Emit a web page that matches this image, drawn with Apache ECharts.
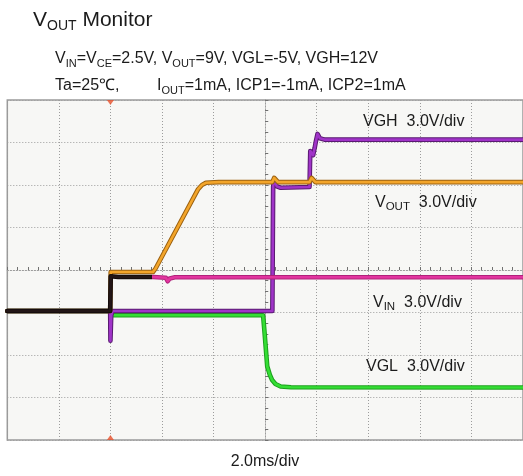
<!DOCTYPE html>
<html>
<head>
<meta charset="utf-8">
<script src="https://cdn.jsdelivr.net/npm/echarts@6/dist/echarts.min.js"></script>
<style>
  html, body { margin: 0; padding: 0; background: #ffffff; }
  #chart { width: 523px; height: 476px; }
</style>
</head>
<body>
<div id="chart"></div>
<script>
// Scope settings: 2 ms/div horizontally, 3 V/div on every channel, shared ground
const TIME_PER_DIV = 2;        // ms
const VOLTS_PER_DIV = 3;       // V
const H_DIVS = 10;
const V_DIVS = 8;
const PRE_TRIGGER_DIVS = 2;    // trigger point sits two divisions from the left edge
const GROUND_DIV = 3.035;      // channel ground level, divisions above the bottom edge
const TRIGGER_MS = 0;

// VIN (ms, V)
const vinTime  = [-4, -0.01, 0.01, 0.3, 1.65, 2.15, 2.22, 2.3, 2.5, 16];
const vinVolts = [0, 0, 2.45, 2.4, 2.4, 2.35, 2.1, 2.3, 2.38, 2.38];
const VIN_DARK_UNTIL = 1.65;   // VIN is drawn dark while it overlaps VOUT

// VOUT (ms, V)
const voutTime  = [-4, -0.01, 0.01, 1.65, 1.75, 3.4, 3.55, 3.7, 4.2, 6.28, 6.35, 6.5, 7.72, 7.8, 7.95, 16];
const voutVolts = [0, 0, 2.75, 2.75, 3.0, 8.6, 8.9, 9.05, 9.1, 9.1, 9.4, 9.1, 9.1, 9.4, 9.1, 9.1];

// VGH (ms, V)
const vghTime  = [-4, -0.01, 0.0, 0.03, 0.08, 6.28, 6.31, 6.36, 6.45, 6.6, 7.72, 7.75, 7.8, 7.86, 7.92, 7.97, 8.03, 8.12, 8.3, 16];
const vghVolts = [0, 0, -2.1, -0.3, 0, 0, 8.8, 9.3, 8.8, 8.7, 8.75, 11.3, 11.4, 11.0, 11.5, 12.0, 12.5, 12.2, 12.1, 12.1];

// VGL (ms, V)
const vglTime  = [-4, -0.01, 0.03, 5.92, 5.98, 6.08, 6.18, 6.27, 6.4, 6.6, 7.0, 16];
const vglVolts = [0, 0, -0.3, -0.3, -1.6, -3.9, -4.5, -4.87, -5.15, -5.33, -5.38, -5.4];

// Text shown on the screen
const channelLabels = ['VGH', 'V_OUT', 'V_IN', 'VGL'];
const scaleText = '3.0V/div';
const timeText = '2.0ms/div';

const FONT = '"Liberation Sans", Arial, Helvetica, sans-serif';
const INK = '#1b1b1b';

const tMin = -PRE_TRIGGER_DIVS * TIME_PER_DIV;
const tMax = tMin + H_DIVS * TIME_PER_DIV;
const vMin = -GROUND_DIV * VOLTS_PER_DIV;
const vMax = vMin + V_DIVS * VOLTS_PER_DIV;

const zip = (xs, ys) => xs.map((x, i) => [x, ys[i]]);

// Rich-text helper: "_" introduces a subscript run, e.g. V_OUT
function richText(label, main, sub) {
  const m = label.match(/^([^_]*)_(\w+)(.*)$/);
  if (!m) return '{' + main + '|' + label + '}';
  let s = '{' + main + '|' + m[1] + '}{' + sub + '|' + m[2] + '}';
  if (m[3]) s += '{' + main + '|' + m[3] + '}';
  return s;
}

const tok = (size, extra) => Object.assign(
  { fontFamily: FONT, fontSize: size, fontWeight: 'normal', color: INK, verticalAlign: 'bottom' }, extra || {});

const rich = {
  big:  tok(21, { padding: [0, 0, 2, 0] }),
  bigS: tok(14),
  n:    tok(16, { padding: [0, 0, 2, 0] }),
  s:    tok(11),
  l:    tok(16, { padding: [0, 0, 2, 0] }),
  ls:   tok(11.5)
};

function textBlock(text, left, top) {
  return { text: text, left: left, top: top, padding: 0, itemGap: 0,
           textStyle: { fontWeight: 'normal', rich: rich } };
}

const header1 = richText('V_IN', 'n', 's') + '{n|=}' + richText('V_CE', 'n', 's') + '{n|=2.5V, }' +
                richText('V_OUT', 'n', 's') + '{n|=9V, VGL=-5V, VGH=12V}';
const header2a = '{n|Ta=25℃,}';
const header2b = richText('I_OUT', 'n', 's') + '{n|=1mA, ICP1=-1mA, ICP2=1mA}';

const chLabel = (name) => richText(name, 'l', 'ls') + '{l|  ' + scaleText + '}';

const traceLine = (color, width) => ({ color: color, width: width, cap: 'round', join: 'round' });

function trace(name, data, edge, core) {
  return [
    { name: name, type: 'line', xAxisIndex: 1, yAxisIndex: 1, data: data, showSymbol: false,
      symbol: 'none', silent: true, lineStyle: traceLine(edge, 4.6) },
    { name: name, type: 'line', xAxisIndex: 1, yAxisIndex: 1, data: data, showSymbol: false,
      symbol: 'none', silent: true, lineStyle: traceLine(core, 2.6) }
  ];
}

// VIN colour changes from dark to magenta where the VOUT ramp starts
const vinSplit = (VIN_DARK_UNTIL - tMin) / (tMax - tMin);
const vinCore = {
  type: 'linear', x: 0, y: 0, x2: 1, y2: 0,
  colorStops: [
    { offset: 0, color: '#231616' }, { offset: vinSplit, color: '#231616' },
    { offset: vinSplit, color: '#e2359f' }, { offset: 1, color: '#e2359f' }
  ]
};
const vinEdge = {
  type: 'linear', x: 0, y: 0, x2: 1, y2: 0,
  colorStops: [
    { offset: 0, color: '#120a0a' }, { offset: vinSplit, color: '#120a0a' },
    { offset: vinSplit, color: '#b0207a' }, { offset: 1, color: '#b0207a' }
  ]
};

const series = [].concat(
  trace('VGL', zip(vglTime, vglVolts), '#1ca01c', '#34de34'),
  trace('VGH', zip(vghTime, vghVolts), '#5a1a72', '#a034c8'),
  trace('VOUT', zip(voutTime, voutVolts), '#9a6010', '#f3a52a'),
  trace('VIN', zip(vinTime, vinVolts), vinEdge, vinCore)
);

// Trigger position markers on the top and bottom frame
series.push({
  type: 'scatter', xAxisIndex: 1, yAxisIndex: 1, silent: true, symbol: 'triangle',
  symbolSize: [7, 5], itemStyle: { color: '#e8502a' }, clip: false,
  data: [
    { value: [TRIGGER_MS, vMax], symbolRotate: 180, symbolOffset: [0, 2.5] },
    { value: [TRIGGER_MS, vMin], symbolOffset: [0, -2.5] }
  ]
});

const gridDash = { color: '#9c9c9c', width: 1, type: [1, 2] };
const tickStyle = { color: '#707070', width: 1 };

function divAxisX(inside, show) {
  return {
    type: 'value', min: -H_DIVS / 2, max: H_DIVS / 2, interval: 1,
    axisLine: { show: true, onZero: true, onZeroAxisIndex: 0, lineStyle: gridDash },
    axisTick: { show: true, inside: inside, length: 3, lineStyle: tickStyle },
    minorTick: { show: true, splitNumber: 5, length: 3, lineStyle: tickStyle },
    axisLabel: { show: false },
    splitLine: { show: show, lineStyle: gridDash }
  };
}
function divAxisY(inside, show) {
  return {
    type: 'value', min: -V_DIVS / 2, max: V_DIVS / 2, interval: 1,
    axisLine: { show: true, onZero: true, onZeroAxisIndex: 0, lineStyle: gridDash },
    axisTick: { show: true, inside: inside, length: 3, lineStyle: tickStyle },
    minorTick: { show: true, splitNumber: 4, length: 3, lineStyle: tickStyle },
    axisLabel: { show: false },
    splitLine: { show: show, lineStyle: gridDash }
  };
}

const option = {
  animation: false,
  backgroundColor: '#ffffff',
  title: [
    textBlock(richText('V_OUT', 'big', 'bigS') + '{big| Monitor}', 33, 10),
    textBlock(header1, 55, 51),
    textBlock(header2a, 55, 78),
    textBlock(header2b, 157, 78),
    textBlock(chLabel(channelLabels[0]), 363, 114),
    textBlock(chLabel(channelLabels[1]), 375, 195),
    textBlock(chLabel(channelLabels[2]), 373, 295),
    textBlock(chLabel(channelLabels[3]), 366, 359),
    { text: timeText, left: 265, top: 454, textAlign: 'center', padding: 0,
      textStyle: { fontFamily: FONT, fontSize: 16, fontWeight: 'normal', color: INK } }
  ],
  grid: {
    left: 7.3, top: 100, width: 519, height: 340,
    show: true, backgroundColor: '#f7f7f5', borderColor: '#9a9a9a', borderWidth: 1.5,
    containLabel: false
  },
  xAxis: [
    divAxisX(true, true),
    { type: 'value', min: tMin, max: tMax, show: false },
    divAxisX(false, false)
  ],
  yAxis: [
    divAxisY(true, true),
    { type: 'value', min: vMin, max: vMax, show: false },
    divAxisY(false, false)
  ],
  series: series
};

const chart = echarts.init(document.getElementById('chart'), null, { renderer: 'canvas' });
chart.setOption(option);
</script>
</body>
</html>
